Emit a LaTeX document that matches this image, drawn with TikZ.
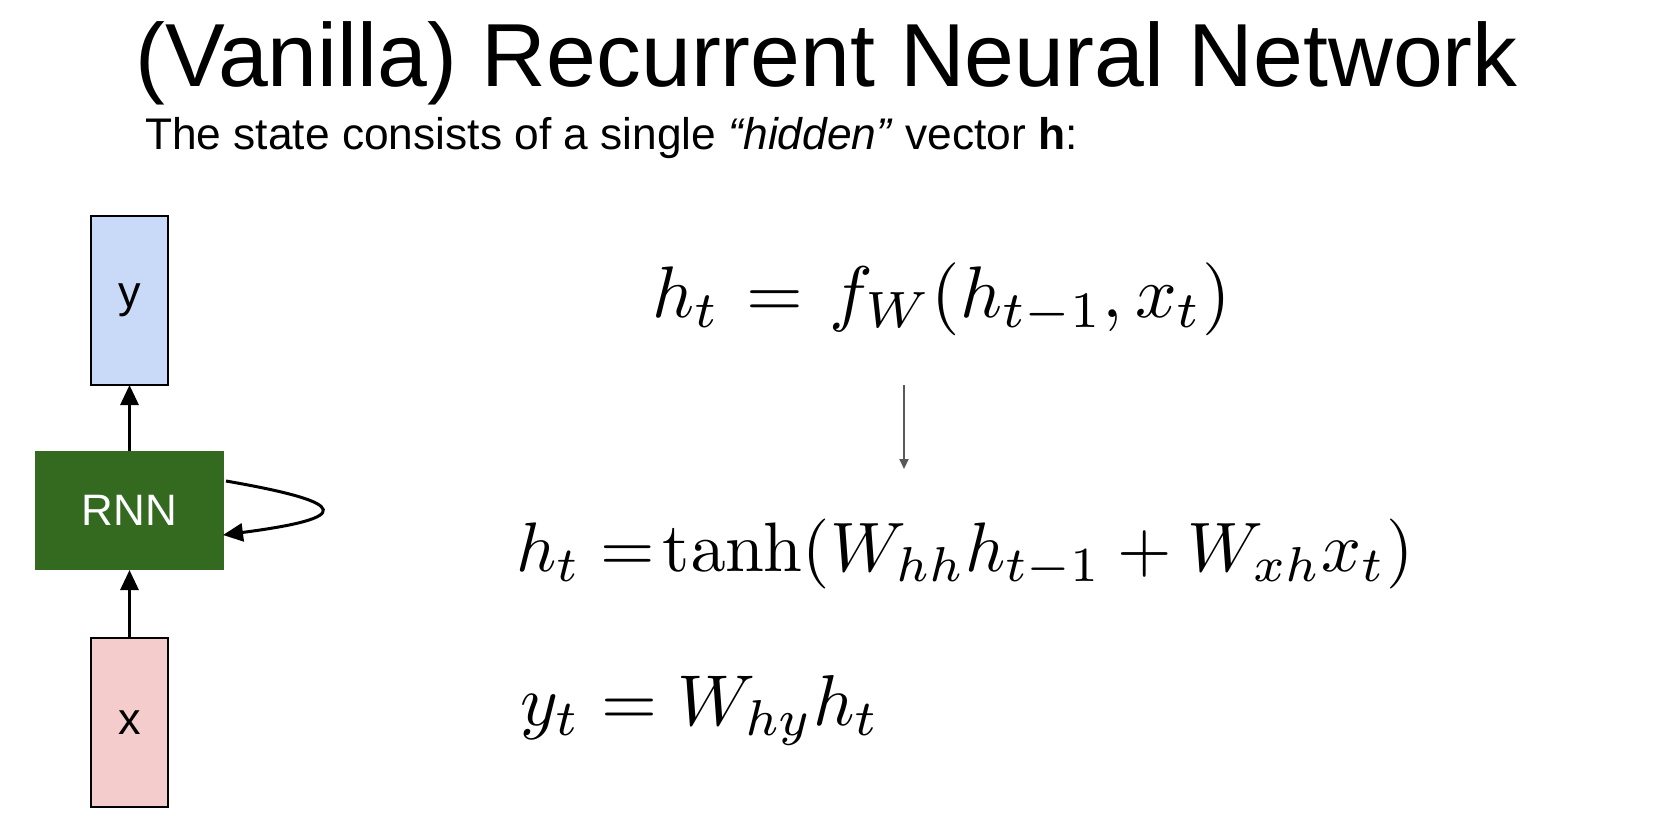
\documentclass[tikz,border=0pt]{standalone}
\usepackage{fix-cm}
\usepackage[no-math]{fontspec}
\newfontfamily\arial{Liberation Sans}
\usetikzlibrary{arrows.meta}
\definecolor{ybox}{HTML}{C9DAF8}
\definecolor{xbox}{HTML}{F4CCCC}
\definecolor{rnngreen}{RGB}{52,106,32}
\definecolor{midgray}{HTML}{595959}
\tikzset{
  vecbox/.style={draw=black, line width=1.5pt, inner sep=0pt, outer sep=0pt,
    minimum width=77pt, minimum height=169pt, font=\arial\fontsize{45}{50}\selectfont},
  rnnbox/.style={fill=rnngreen, draw=none, inner sep=0pt, outer sep=0pt, text=white,
    minimum width=189pt, minimum height=119pt, font=\arial\fontsize{44}{50}\selectfont},
  flow/.style={line width=3pt, -{Triangle[length=20pt,width=18pt]}},
  thin arrow/.style={draw=midgray, line width=2pt, -{Triangle[length=10pt,width=9pt]}},
  eqstyle/.style={anchor=base west, inner sep=0pt, font=\fontsize{10}{12}\selectfont},
}
\begin{document}
\begin{tikzpicture}[x=1pt, y=-1pt]
\useasboundingbox (0,0) rectangle (1654,839);
\node[anchor=base west, inner sep=0pt, font=\arial\fontsize{89.6}{100}\selectfont] (title) at (135,86) {(Vanilla) Recurrent Neural Network};
\node[anchor=base west, inner sep=0pt, font=\arial\fontsize{44.3}{52}\selectfont] (sub) at (145,149) {The state consists of a single \textit{“hidden”} vector \textbf{h}:};

\node[vecbox, fill=ybox] (y) at (129.5,300.5) {\raisebox{-4pt}{y}};
\node[rnnbox] (rnn) at (129.5,510.5) {RNN};
\node[vecbox, fill=xbox] (x) at (129.5,722.5) {\raisebox{-4pt}{x}};

\draw[flow] (rnn.north) -- (y.south);
\draw[flow] (x.north) -- (rnn.south);
\draw[flow] ([shift={(2,-29.5)}]rnn.east) .. controls (353,503) and (353,518) .. ([shift={(-1,24.5)}]rnn.east);

\node[eqstyle, scale=7.3] (eq1) at (651,317) {$\thickmuskip=6.5mu h_t = f_W(h_{t-1}, x_t)$};
\coordinate (a1) at (904,385);
\coordinate (a2) at (904,469);
\draw[thin arrow] (a1) -- (a2);
\node[eqstyle, scale=7] (eq2) at (515,571) {$h_t = \!\tanh(W_{hh}h_{t-1} + W_{xh}x_t)$};
\node[eqstyle, scale=7.2] (eq3) at (519,725) {$y_t = W_{hy}h_t$};
\end{tikzpicture}
\end{document}
